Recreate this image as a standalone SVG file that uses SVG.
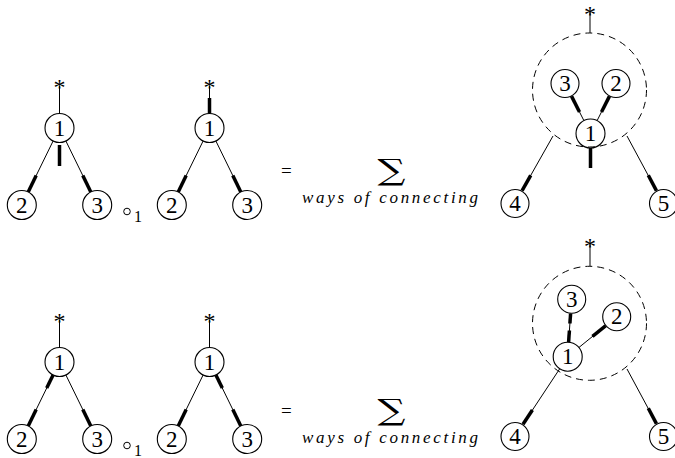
<svg xmlns="http://www.w3.org/2000/svg" width="675" height="458" viewBox="0 0 675 458">
<style>
.thin{stroke:#000;stroke-width:1;fill:none}
.thick{stroke:#000;stroke-width:3.5;fill:none}
.dash{stroke:#000;stroke-width:1;fill:none;stroke-dasharray:7 5}
.node circle{fill:#fff;stroke:#000;stroke-width:1.1}
text{font-family:'Liberation Serif','DejaVu Serif','Times New Roman',serif;fill:#000}
.node text{font-size:23px;text-anchor:middle}
.star{font-size:24px;text-anchor:middle}
.eq{font-size:19px}
.sum{font-family:'DejaVu Serif','Liberation Serif',serif;font-size:29px;text-anchor:middle}
.ways{font-style:italic;font-size:17px}
.sub{font-size:16px}
</style>
<g id="connectors">
<line class="thin" x1="59.5" y1="86" x2="59.5" y2="113.5"/>
<line class="thick" x1="59.5" y1="145" x2="59.5" y2="166"/>
<line class="thin" x1="53.1" y1="141" x2="28.2" y2="191.9"/>
<line class="thick" x1="36.2" y1="175.6" x2="28.2" y2="191.9"/>
<line class="thin" x1="65.9" y1="141" x2="90.8" y2="191.9"/>
<line class="thick" x1="82.8" y1="175.6" x2="90.8" y2="191.9"/>
<line class="thin" x1="209.5" y1="86" x2="209.5" y2="98"/>
<line class="thick" x1="209.5" y1="98" x2="209.5" y2="113.5"/>
<line class="thin" x1="203.1" y1="141" x2="178.2" y2="191.9"/>
<line class="thick" x1="186.2" y1="175.6" x2="178.2" y2="191.9"/>
<line class="thin" x1="215.9" y1="141" x2="240.8" y2="191.9"/>
<line class="thick" x1="232.8" y1="175.6" x2="240.8" y2="191.9"/>
<line class="thin" x1="590" y1="12" x2="590" y2="33"/>
<line class="thin" x1="571.6" y1="96.4" x2="583.9" y2="120.6"/>
<line class="thick" x1="571.6" y1="96.4" x2="579.5" y2="112"/>
<line class="thin" x1="609.4" y1="96.4" x2="597.1" y2="120.6"/>
<line class="thick" x1="609.4" y1="96.4" x2="601.5" y2="112"/>
<line class="thick" x1="590.5" y1="148" x2="590.5" y2="168"/>
<line class="thin" x1="553" y1="136" x2="522.1" y2="190.6"/>
<line class="thick" x1="530.7" y1="175.3" x2="522.1" y2="190.6"/>
<line class="thin" x1="627" y1="136" x2="656.4" y2="190.6"/>
<line class="thick" x1="648.3" y1="175.3" x2="656.4" y2="190.6"/>
<line class="thin" x1="59.5" y1="320" x2="59.5" y2="347.5"/>
<line class="thin" x1="53.1" y1="375" x2="28.2" y2="425.9"/>
<line class="thick" x1="53.1" y1="375" x2="46.7" y2="388"/>
<line class="thick" x1="36.2" y1="409.6" x2="28.2" y2="425.9"/>
<line class="thin" x1="65.9" y1="375" x2="90.8" y2="425.9"/>
<line class="thick" x1="82.8" y1="409.6" x2="90.8" y2="425.9"/>
<line class="thin" x1="209.5" y1="320" x2="209.5" y2="347.5"/>
<line class="thin" x1="203.1" y1="375" x2="178.2" y2="425.9"/>
<line class="thick" x1="186.2" y1="409.6" x2="178.2" y2="425.9"/>
<line class="thin" x1="215.9" y1="375" x2="240.8" y2="425.9"/>
<line class="thick" x1="215.9" y1="375" x2="222.3" y2="388"/>
<line class="thick" x1="232.8" y1="409.6" x2="240.8" y2="425.9"/>
<line class="thin" x1="590" y1="244" x2="590" y2="266.5"/>
<line class="thin" x1="570.6" y1="313.5" x2="568.6" y2="342.3"/>
<line class="thick" x1="570.6" y1="313.5" x2="569.9" y2="323.5"/>
<line class="thick" x1="569.4" y1="330.5" x2="568.6" y2="342.3"/>
<line class="thin" x1="578.9" y1="347.5" x2="605.5" y2="325.9"/>
<line class="thick" x1="592.5" y1="336.4" x2="605.5" y2="325.9"/>
<line class="thin" x1="559.7" y1="368.8" x2="523" y2="424.3"/>
<line class="thick" x1="532.4" y1="410" x2="523" y2="424.3"/>
<line class="thin" x1="627" y1="369" x2="656.4" y2="423.6"/>
<line class="thick" x1="648.3" y1="408.3" x2="656.4" y2="423.6"/>
</g>
<g id="stars">
<text class="star" x="59.5" y="95">*</text>
<text class="star" x="209.5" y="95">*</text>
<text class="star" x="590" y="22">*</text>
<text class="star" x="59.5" y="329">*</text>
<text class="star" x="209.5" y="329">*</text>
<text class="star" x="590" y="254">*</text>
</g>
<g id="tA1" class="node"><circle cx="59.5" cy="128" r="14.5"/><text x="59.5" y="135.5">1</text></g>
<g id="tA2" class="node"><circle cx="21.8" cy="205" r="14.5"/><text x="21.8" y="212.5">2</text></g>
<g id="tA3" class="node"><circle cx="97.2" cy="205" r="14.5"/><text x="97.2" y="212.5">3</text></g>
<g id="top-circ1"><circle class="thin" cx="127" cy="211.5" r="3.3"/><text class="sub" x="134" y="222">1</text></g>
<g id="tB1" class="node"><circle cx="209.5" cy="128" r="14.5"/><text x="209.5" y="135.5">1</text></g>
<g id="tB2" class="node"><circle cx="171.8" cy="205" r="14.5"/><text x="171.8" y="212.5">2</text></g>
<g id="tB3" class="node"><circle cx="247.2" cy="205" r="14.5"/><text x="247.2" y="212.5">3</text></g>
<g id="top-eq">
<text class="eq" x="281" y="177">=</text>
<text class="sum" transform="translate(391.5,180) scale(1.35,1)">∑</text>
<text class="ways" x="302" y="203" textLength="176" lengthAdjust="spacing">ways of connecting</text>
</g>
<g id="tR1" class="node"><circle cx="590.5" cy="133.5" r="14.5"/><text x="590.5" y="141">1</text></g>
<g id="tR3" class="node"><circle cx="565" cy="83.5" r="14"/><text x="565" y="91">3</text></g>
<g id="tR2" class="node"><circle cx="616" cy="83.5" r="14"/><text x="616" y="91">2</text></g>
<g id="tR4" class="node"><circle cx="515" cy="203.5" r="14"/><text x="515" y="211">4</text></g>
<g id="tR5" class="node"><circle cx="663.5" cy="203.5" r="14"/><text x="663.5" y="211">5</text></g>
<circle id="top-dashed" class="dash" cx="589.5" cy="90" r="57"/>
<g id="bA1" class="node"><circle cx="59.5" cy="362" r="14.5"/><text x="59.5" y="369.5">1</text></g>
<g id="bA2" class="node"><circle cx="21.8" cy="439" r="14.5"/><text x="21.8" y="446.5">2</text></g>
<g id="bA3" class="node"><circle cx="97.2" cy="439" r="14.5"/><text x="97.2" y="446.5">3</text></g>
<g id="bot-circ1"><circle class="thin" cx="127" cy="445.5" r="3.3"/><text class="sub" x="134" y="456">1</text></g>
<g id="bB1" class="node"><circle cx="209.5" cy="362" r="14.5"/><text x="209.5" y="369.5">1</text></g>
<g id="bB2" class="node"><circle cx="171.8" cy="439" r="14.5"/><text x="171.8" y="446.5">2</text></g>
<g id="bB3" class="node"><circle cx="247.2" cy="439" r="14.5"/><text x="247.2" y="446.5">3</text></g>
<g id="bot-eq">
<text class="eq" x="281" y="417">=</text>
<text class="sum" transform="translate(391.5,420) scale(1.35,1)">∑</text>
<text class="ways" x="302" y="443" textLength="176" lengthAdjust="spacing">ways of connecting</text>
</g>
<g id="bR1" class="node"><circle cx="567.7" cy="356.7" r="14.5"/><text x="567.7" y="364.2">1</text></g>
<g id="bR3" class="node"><circle cx="571.7" cy="299.3" r="14"/><text x="571.7" y="306.8">3</text></g>
<g id="bR2" class="node"><circle cx="616.7" cy="316.7" r="14"/><text x="616.7" y="324.2">2</text></g>
<g id="bR4" class="node"><circle cx="515" cy="436.5" r="14"/><text x="515" y="444">4</text></g>
<g id="bR5" class="node"><circle cx="663.5" cy="436.5" r="14"/><text x="663.5" y="444">5</text></g>
<circle id="bot-dashed" class="dash" cx="589.5" cy="323.3" r="57"/>
</svg>
